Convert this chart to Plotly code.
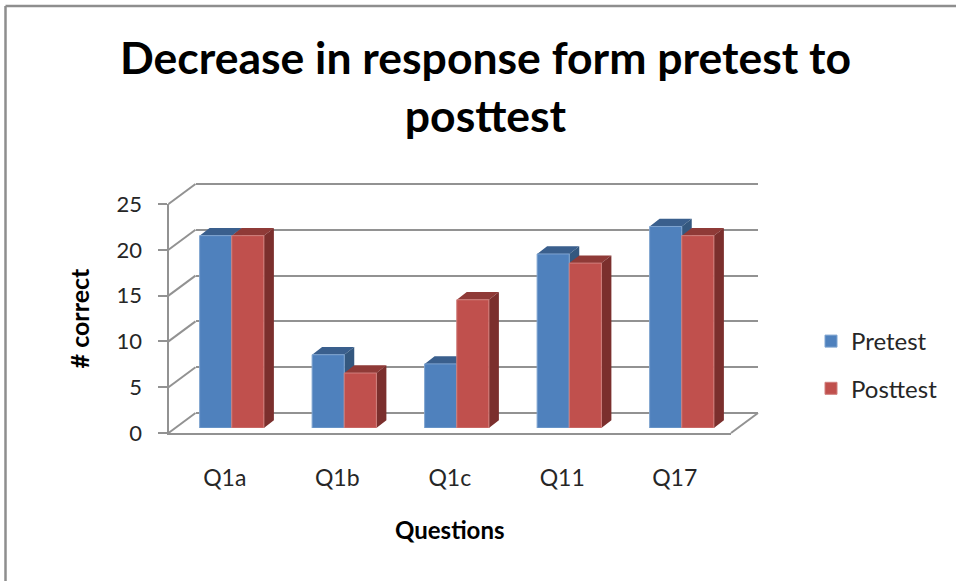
import plotly.graph_objects as go

categories = ["Q1a", "Q1b", "Q1c", "Q11", "Q17"]
pretest = [21, 8, 7, 19, 22]
posttest = [21, 6, 14, 18, 21]
y_ticks = [0, 5, 10, 15, 20, 25]

W, H = 956, 581
FONT = "Lato"
TEXT = "#262626"
GRID = "#929292"

# Front plane of the 3-D box in pixels
PX0, PX1, PY_TOP, PY_BOT = 168.5, 731, 204, 433
WALL_DX, WALL_DY = 27, 20      # back wall shift
BAR_DX, BAR_DY = 7, 5          # plane of the bar fronts
DEPTH_X, DEPTH_Y = 10, 7.7     # bar depth
PAD = 3                        # spare pixels round helper subplots, so ends are not clipped
px_per_cat = (PX1 - PX0) / len(categories)
px_per_val = (PY_BOT - PY_TOP) / y_ticks[-1]
BARGAP = 1.5 / 3.5
bar_w = (1 - BARGAP) / 2
XR = [-0.5, len(categories) - 0.5]
YR = [0, y_ticks[-1]]
wx, wy = WALL_DX / px_per_cat, WALL_DY / px_per_val
pad_x, pad_y = PAD / px_per_cat, PAD / px_per_val


def dom_x(shift):
    return [(PX0 + shift) / W, (PX1 + shift) / W]


def dom_y(shift):
    return [1 - (PY_BOT - shift) / H, 1 - (PY_TOP - shift) / H]


def faces(values, offset):
    """Top and side faces of each bar, from the data values."""
    dx, dy = DEPTH_X / px_per_cat, DEPTH_Y / px_per_val
    tx, ty, sx, sy = [], [], [], []
    for i, v in enumerate(values):
        l = i + offset
        r = l + bar_w
        tx += [l, l + dx, r + dx, r, l, None]
        ty += [v, v + dy, v + dy, v, v, None]
        sx += [r, r + dx, r + dx, r, r, None]
        sy += [0, dy, v + dy, v, 0, None]
    return tx, ty, sx, sy


fig = go.Figure()

# Front plane: carries the axis lines, ticks and tick labels
fig.add_trace(go.Scatter(x=[None], y=[None], mode="lines", showlegend=False,
                         hoverinfo="skip", xaxis="x", yaxis="y"))

# Back wall: carries only the gridlines
fig.add_trace(go.Scatter(x=[None], y=[None], mode="lines", showlegend=False,
                         hoverinfo="skip", xaxis="x2", yaxis="y2"))

# Bar tops and sides
for values, off, top_c, side_c in [(pretest, -bar_w, "#3A5F8D", "#34587F"),
                                   (posttest, 0, "#8F3A37", "#7B2F2D")]:
    tx, ty, sx, sy = faces(values, off)
    for fx, fy, c in [(tx, ty, top_c), (sx, sy, side_c)]:
        fig.add_trace(go.Scatter(x=fx, y=fy, mode="lines", fill="toself", fillcolor=c,
                                 line=dict(width=0, color=c), cliponaxis=False,
                                 showlegend=False, hoverinfo="skip",
                                 xaxis="x3", yaxis="y3"))

# Bar fronts
fig.add_trace(go.Bar(x=categories, y=pretest, name="Pretest", xaxis="x4", yaxis="y4",
                     legendgroup="pre",
                     marker=dict(color="#4F81BD", line=dict(color="#7FA4D0", width=1))))
fig.add_trace(go.Bar(x=categories, y=posttest, name="Posttest", xaxis="x4", yaxis="y4",
                     legendgroup="post",
                     marker=dict(color="#C0504D", line=dict(color="#D07F7C", width=1))))

# Diagonal edges of the box, on a helper subplot large enough not to clip them
dx_line, dy_line = [], []
for v in y_ticks:
    dx_line += [XR[0], XR[0] + wx, None]
    dy_line += [v, v + wy, None]
dx_line += [XR[1], XR[1] + wx, None]
dy_line += [0, wy, None]
fig.add_trace(go.Scatter(x=dx_line, y=dy_line, mode="lines",
                         line=dict(color=GRID, width=2), showlegend=False,
                         hoverinfo="skip", xaxis="x5", yaxis="y5"))

hidden = dict(visible=False, fixedrange=True)
border = dict(type="line", xref="paper", yref="paper",
              line=dict(color="#8e8e8e", width=2.5), layer="above")

fig.update_layout(
    width=W, height=H, autosize=False,
    margin=dict(l=0, r=0, t=0, b=0, autoexpand=False),
    paper_bgcolor="white", plot_bgcolor="rgba(0,0,0,0)",
    font=dict(family=FONT, color=TEXT, size=22),
    barmode="group", bargap=BARGAP, bargroupgap=0,
    title=dict(text="<b>Decrease in response form pretest to<br>posttest</b>",
               x=485.5 / W, xanchor="center", y=1 - 74 / H, yanchor="top",
               font=dict(family=FONT, size=44.5, color="#000000")),
    xaxis=dict(domain=dom_x(0), anchor="y", range=XR, tickmode="array",
               tickvals=list(range(len(categories))), ticktext=categories,
               showgrid=False, zeroline=False, showline=True, linecolor=GRID, linewidth=2,
               ticks="", ticklabelstandoff=23, tickfont=dict(size=23),
               title=dict(text="<b>Questions</b>", standoff=33,
                          font=dict(size=24, color="#000000"))),
    yaxis=dict(domain=dom_y(0), anchor="x", range=YR, tickmode="array", tickvals=y_ticks,
               showgrid=False, zeroline=False, showline=True, linecolor=GRID, linewidth=2,
               ticks="outside", ticklen=9, tickwidth=2, tickcolor=GRID,
               ticklabelstandoff=11, tickfont=dict(size=22),
               title=dict(text="<b># correct</b>", standoff=20,
                          font=dict(size=25, color="#000000"))),
    xaxis2=dict(domain=dom_x(WALL_DX), anchor="y2", range=XR, showticklabels=False, ticks="",
                showgrid=False, zeroline=False, showline=False),
    # The wall's y range is wider than the data so that the 0 and 25 gridlines are kept
    yaxis2=dict(domain=[1 - (PY_BOT - WALL_DY + PAD) / H, 1 - (PY_TOP - WALL_DY - PAD) / H],
                anchor="x2", range=[YR[0] - pad_y, YR[1] + pad_y],
                tickmode="array", tickvals=y_ticks,
                showticklabels=False, ticks="", showgrid=True, gridcolor=GRID, gridwidth=2,
                zeroline=False, showline=False),
    xaxis3=dict(domain=dom_x(BAR_DX), anchor="y3", range=XR, **hidden),
    yaxis3=dict(domain=dom_y(BAR_DY), anchor="x3", range=YR, **hidden),
    xaxis4=dict(domain=dom_x(BAR_DX), anchor="y4", range=XR, type="category", **hidden),
    yaxis4=dict(domain=dom_y(BAR_DY), anchor="x4", range=YR, **hidden),
    xaxis5=dict(domain=[(PX0 - PAD) / W, (PX1 + WALL_DX + PAD) / W], anchor="y5",
                range=[XR[0] - pad_x, XR[1] + wx + pad_x], **hidden),
    yaxis5=dict(domain=[1 - (PY_BOT + PAD) / H, 1 - (PY_TOP - WALL_DY - PAD) / H], anchor="x5",
                range=[YR[0] - pad_y, YR[1] + wy + pad_y], **hidden),
    legend=dict(x=811 / W, xanchor="left", y=1 - 319 / H, yanchor="top",
                bgcolor="rgba(0,0,0,0)", font=dict(size=24), traceorder="grouped",
                tracegroupgap=13, itemclick=False, itemdoubleclick=False),
    shapes=[dict(border, x0=5.5 / W, x1=1, y0=1 - 6 / H, y1=1 - 6 / H),
            dict(border, x0=5.5 / W, x1=5.5 / W, y0=0, y1=1 - 6 / H)],
)

fig.write_html("out.html", config=dict(displayModeBar=False),
               post_script="document.body.style.margin='0';")
